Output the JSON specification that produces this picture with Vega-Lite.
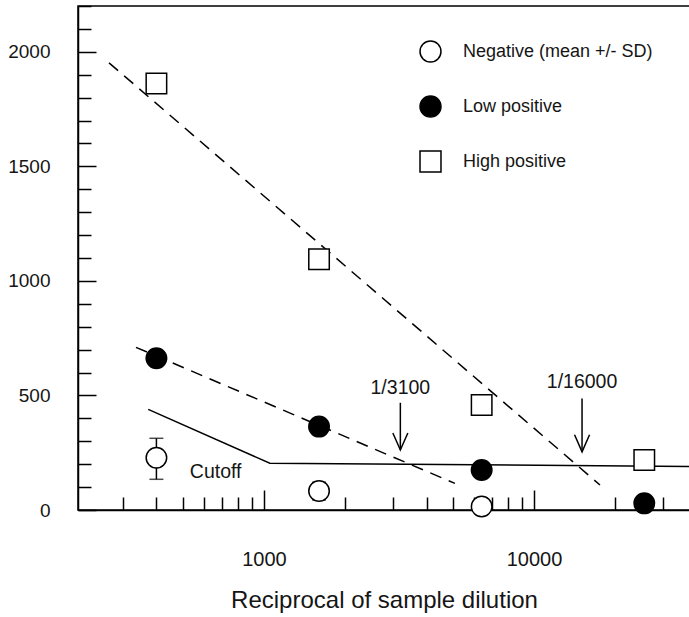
{
  "$schema": "https://vega.github.io/schema/vega-lite/v6.json",
  "autosize": {"type": "none"},
  "padding": {"left": 78, "top": 6, "right": 0, "bottom": 107},
  "width": 612,
  "height": 504,
  "background": "white",
  "config": {
    "font": "Liberation Sans",
    "view": {"stroke": "black", "strokeWidth": 1.5},
    "axis": {
      "domainColor": "black", "domainWidth": 1.5,
      "tickColor": "black", "tickWidth": 1.5,
      "labelColor": "#151515", "titleColor": "#151515",
      "grid": false, "labelFont": "Liberation Sans", "titleFont": "Liberation Sans"
    }
  },
  "datasets": {
    "points": [
      {"group": "Negative (mean +/- SD)", "dilution": 400, "value": 228, "lo": 134, "hi": 313},
      {"group": "Negative (mean +/- SD)", "dilution": 1600, "value": 83, "lo": 44, "hi": 121},
      {"group": "Negative (mean +/- SD)", "dilution": 6400, "value": 15},
      {"group": "Low positive", "dilution": 400, "value": 662},
      {"group": "Low positive", "dilution": 1600, "value": 364},
      {"group": "Low positive", "dilution": 6400, "value": 175},
      {"group": "Low positive", "dilution": 25600, "value": 29},
      {"group": "High positive", "dilution": 400, "value": 1862},
      {"group": "High positive", "dilution": 1600, "value": 1095},
      {"group": "High positive", "dilution": 6400, "value": 458},
      {"group": "High positive", "dilution": 25600, "value": 218}
    ],
    "lines": [
      {"line": "High positive fit", "dilution": 267, "value": 1952, "order": 1},
      {"line": "High positive fit", "dilution": 17550, "value": 109, "order": 2},
      {"line": "Low positive fit", "dilution": 336, "value": 710, "order": 1},
      {"line": "Low positive fit", "dilution": 5095, "value": 116, "order": 2},
      {"line": "Cutoff", "dilution": 373, "value": 439, "order": 1},
      {"line": "Cutoff", "dilution": 1052, "value": 204, "order": 2},
      {"line": "Cutoff", "dilution": 37800, "value": 190, "order": 3}
    ],
    "arrows": [
      {"label": "1/3100", "dilution": 3200, "top": 468, "tip": 262, "labelY": 506},
      {"label": "1/16000", "dilution": 15060, "top": 487, "tip": 254, "labelY": 531}
    ],
    "notes": [
      {"text": "Cutoff", "dilution": 532, "value": 138}
    ]
  },
  "layer": [
    {
      "data": {"name": "lines"},
      "transform": [{"filter": "datum.line != 'Cutoff'"}],
      "mark": {"type": "line", "color": "black", "strokeWidth": 1.5, "strokeDash": [12, 8]},
      "encoding": {
        "x": {
          "field": "dilution", "type": "quantitative",
          "scale": {"type": "log", "domain": [205, 37800], "nice": false},
          "axis": {
            "values": [300, 400, 500, 600, 700, 800, 900, 1000, 2000, 3000, 4000, 5000, 6000, 7000, 8000, 9000, 10000, 20000, 30000],
            "tickCount": 40,
            "format": "d",
            "labelExpr": "datum.value == 1000 || datum.value == 10000 ? datum.label : ''",
            "tickSize": {"condition": {"test": "datum.value == 1000 || datum.value == 10000", "value": -20}, "value": -13},
            "labelFontSize": 20,
            "labelBaseline": "alphabetic",
            "labelPadding": 75,
            "labelFlush": false,
            "labelOverlap": false,
            "title": "Reciprocal of sample dilution",
            "titleFontSize": 24,
            "titleFontWeight": "normal",
            "titleBaseline": "alphabetic",
            "titleY": 97
          }
        },
        "y": {
          "field": "value", "type": "quantitative",
          "scale": {"domain": [0, 2200], "nice": false},
          "axis": {
            "values": [0, 100, 200, 300, 400, 500, 600, 700, 800, 900, 1000, 1100, 1200, 1300, 1400, 1500, 1600, 1700, 1800, 1900, 2000, 2100, 2200],
            "tickCount": 40,
            "format": "d",
            "labelExpr": "datum.value % 500 == 0 ? datum.label : ''",
            "tickSize": {"condition": {"test": "datum.value % 500 == 0", "value": -18}, "value": -13},
            "labelFontSize": 19,
            "labelPadding": 46,
            "labelOverlap": false,
            "labelFlush": false,
            "title": null
          }
        },
        "detail": {"field": "line"},
        "order": {"field": "order"}
      }
    },
    {
      "data": {"name": "lines"},
      "transform": [{"filter": "datum.line == 'Cutoff'"}],
      "mark": {"type": "line", "color": "black", "strokeWidth": 1.5},
      "encoding": {
        "x": {"field": "dilution", "type": "quantitative"},
        "y": {"field": "value", "type": "quantitative"},
        "order": {"field": "order"}
      }
    },
    {
      "data": {"name": "points"},
      "transform": [{"filter": "isValid(datum.lo)"}],
      "mark": {"type": "rule", "color": "black", "strokeWidth": 1.5},
      "encoding": {
        "x": {"field": "dilution", "type": "quantitative"},
        "y": {"field": "lo", "type": "quantitative"},
        "y2": {"field": "hi"}
      }
    },
    {
      "data": {"name": "points"},
      "transform": [{"filter": "isValid(datum.lo)"}, {"fold": ["lo", "hi"], "as": ["end", "endValue"]}],
      "mark": {"type": "tick", "orient": "horizontal", "color": "black", "size": 14, "thickness": 1.5},
      "encoding": {
        "x": {"field": "dilution", "type": "quantitative"},
        "y": {"field": "endValue", "type": "quantitative"}
      }
    },
    {
      "data": {"name": "points"},
      "mark": {"type": "point", "filled": true, "strokeWidth": 1.5, "opacity": 1, "size": 420},
      "encoding": {
        "x": {"field": "dilution", "type": "quantitative"},
        "y": {"field": "value", "type": "quantitative"},
        "shape": {
          "field": "group", "type": "nominal",
          "scale": {"domain": ["Negative (mean +/- SD)", "Low positive", "High positive"], "range": ["circle", "circle", "square"]},
          "legend": {"orient": "none", "legendX": 341, "legendY": 34, "title": null, "labelFontSize": 18, "labelFont": "Liberation Sans", "labelColor": "#151515", "labelLimit": 400, "symbolSize": 440, "symbolStrokeWidth": 1.5, "labelOffset": 21, "rowPadding": 28}
        },
        "fill": {
          "field": "group", "type": "nominal",
          "scale": {"domain": ["Negative (mean +/- SD)", "Low positive", "High positive"], "range": ["white", "black", "white"]},
          "legend": {"orient": "none", "legendX": 341, "legendY": 34, "title": null, "labelFontSize": 18, "labelFont": "Liberation Sans", "labelColor": "#151515", "labelLimit": 400, "symbolSize": 440, "symbolStrokeWidth": 1.5, "labelOffset": 21, "rowPadding": 28}
        },
        "stroke": {
          "field": "group", "type": "nominal",
          "scale": {"domain": ["Negative (mean +/- SD)", "Low positive", "High positive"], "range": ["black", "black", "black"]},
          "legend": {"orient": "none", "legendX": 341, "legendY": 34, "title": null, "labelFontSize": 18, "labelFont": "Liberation Sans", "labelColor": "#151515", "labelLimit": 400, "symbolSize": 440, "symbolStrokeWidth": 1.5, "labelOffset": 21, "rowPadding": 28}
        }
      }
    },
    {
      "data": {"name": "arrows"},
      "mark": {"type": "rule", "color": "black", "strokeWidth": 1.5},
      "encoding": {
        "x": {"field": "dilution", "type": "quantitative"},
        "y": {"field": "top", "type": "quantitative"},
        "y2": {"field": "tip"}
      }
    },
    {
      "data": {"name": "arrows"},
      "mark": {"type": "point", "shape": "M-0.75,-1.7L0,0L0.75,-1.7", "filled": false, "stroke": "black", "strokeWidth": 1.5, "size": 400, "opacity": 1},
      "encoding": {
        "x": {"field": "dilution", "type": "quantitative"},
        "y": {"field": "tip", "type": "quantitative"}
      }
    },
    {
      "data": {"name": "arrows"},
      "mark": {"type": "text", "align": "center", "baseline": "alphabetic", "fontSize": 19.5, "color": "#151515"},
      "encoding": {
        "x": {"field": "dilution", "type": "quantitative"},
        "y": {"field": "labelY", "type": "quantitative"},
        "text": {"field": "label"}
      }
    },
    {
      "data": {"name": "notes"},
      "mark": {"type": "text", "align": "left", "baseline": "alphabetic", "fontSize": 19.5, "color": "#151515"},
      "encoding": {
        "x": {"field": "dilution", "type": "quantitative"},
        "y": {"field": "value", "type": "quantitative"},
        "text": {"field": "text"}
      }
    }
  ]
}
